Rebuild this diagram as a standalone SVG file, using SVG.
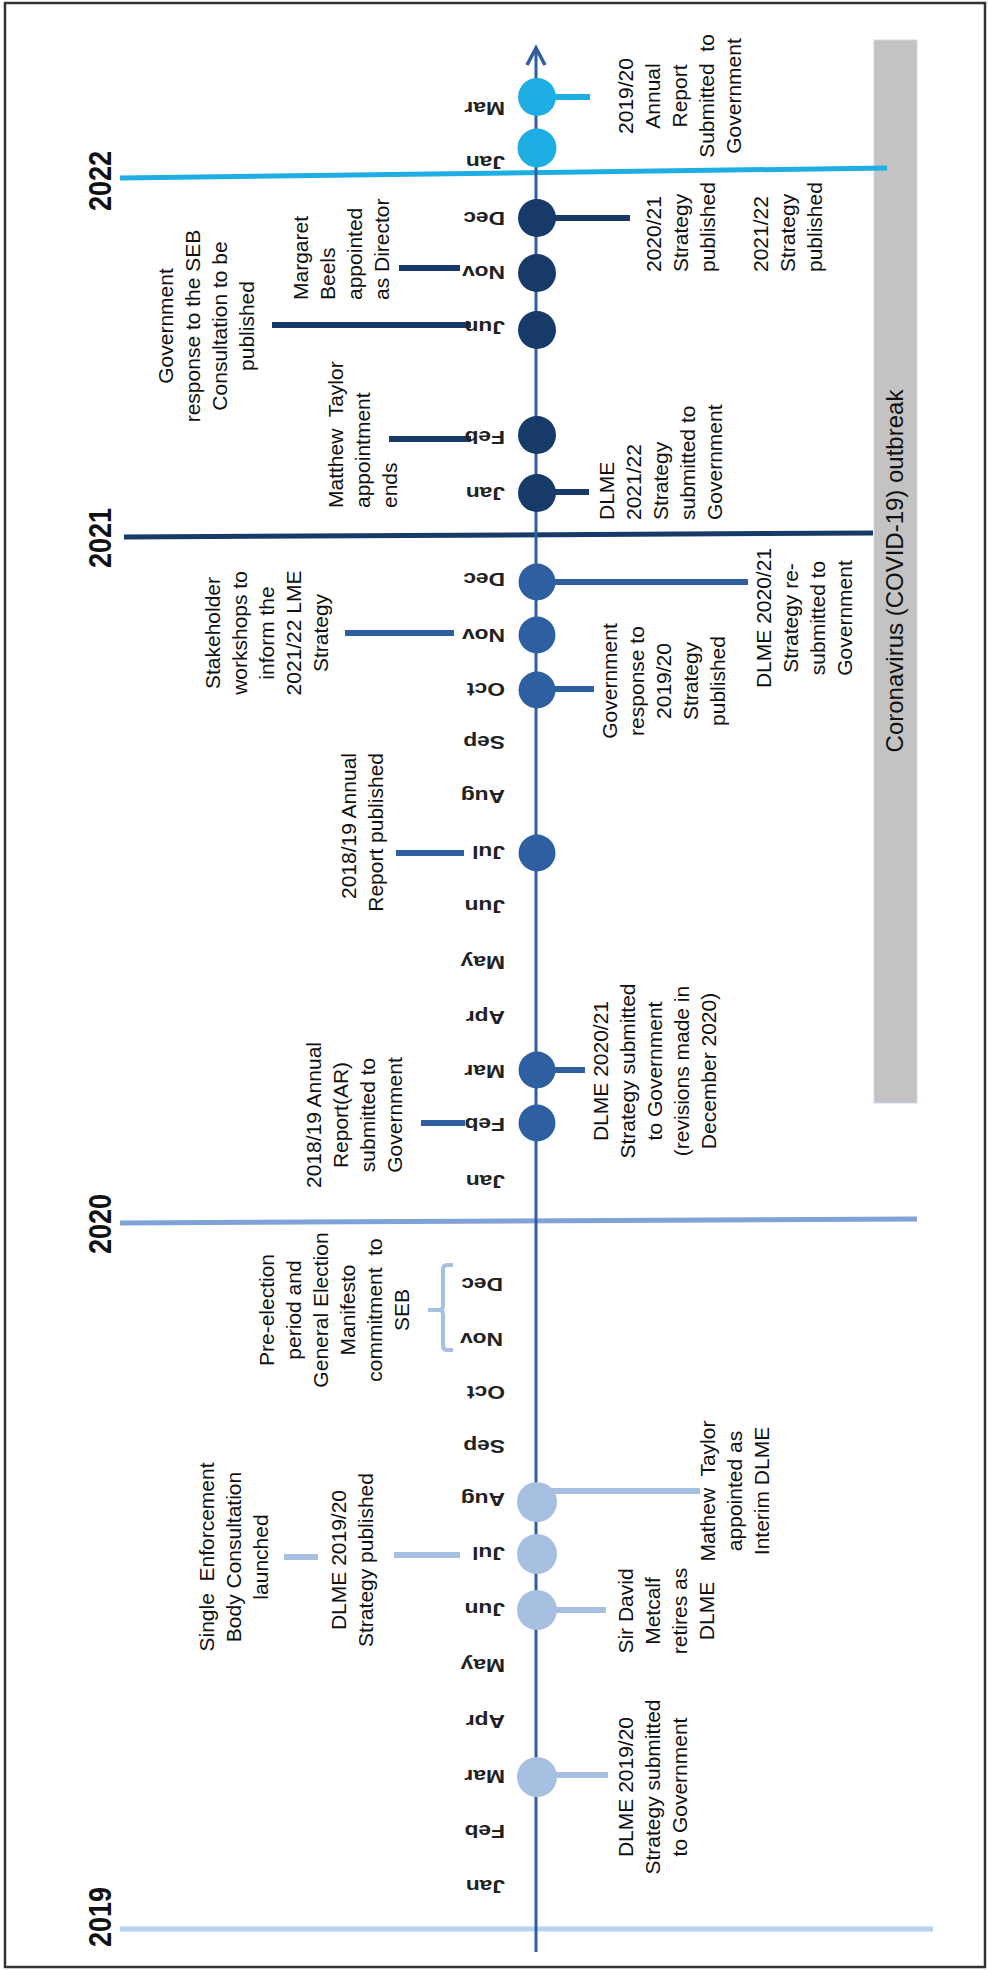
<svg xmlns="http://www.w3.org/2000/svg" width="988" height="1970" viewBox="0 0 988 1970">
<style>
.ev{font-family:"Liberation Sans",Arial,sans-serif;font-size:21px;fill:#111}
.pre{white-space:pre}
.mo{font-family:"Liberation Sans",Arial,sans-serif;font-size:19px;font-weight:bold;fill:#222}
.yr{font-family:"Liberation Sans",Arial,sans-serif;font-size:27px;font-weight:bold;fill:#111}
.c19{fill:#a7bfe0}.c20{fill:#2e5fa0}.c21{fill:#173a68}.c22{fill:#1eaee4}
.k19{stroke:#a7bfe0}.k20{stroke:#2e5fa0}.k21{stroke:#173a68}.k22{stroke:#1eaee4}
.cn{stroke-width:6;fill:none}
</style>
<rect x="5" y="3" width="980" height="1964" fill="#fff" stroke="#333" stroke-width="2.5"/>
<g id="covid">
<rect x="874" y="40" width="43" height="1063" fill="#c3c3c3" stroke="#cdd9ec" stroke-width="1"/>
<text class="ev" style="font-size:24px" text-anchor="middle" transform="translate(903,571) rotate(-90)">Coronavirus (COVID-19) outbreak</text>
</g>
<g id="years">
<line x1="120" y1="178" x2="887" y2="168" stroke="#1eaee4" stroke-width="5"/>
<line x1="124" y1="537" x2="873" y2="533" stroke="#173a68" stroke-width="5"/>
<line x1="120" y1="1223" x2="917" y2="1219" stroke="#7fa2d8" stroke-width="5"/>
<line x1="120" y1="1929" x2="933" y2="1929" stroke="#b5d3ec" stroke-width="5"/>
<text class="yr" text-anchor="middle" transform="translate(111,181) rotate(-90) scale(1,1.14)">2022</text>
<text class="yr" text-anchor="middle" transform="translate(111,538) rotate(-90) scale(1,1.14)">2021</text>
<text class="yr" text-anchor="middle" transform="translate(111,1224) rotate(-90) scale(1,1.14)">2020</text>
<text class="yr" text-anchor="middle" transform="translate(111,1917) rotate(-90) scale(1,1.14)">2019</text>
</g>
<g id="axis" stroke="#2f5e9e" stroke-width="3" fill="none">
<line x1="536" y1="50" x2="536" y2="1952"/>
<polyline points="527,65 536,48 545,65" stroke-width="3.5"/>
</g>
<g id="connectors">
<line class="cn k22" x1="537" y1="97" x2="590" y2="97"/>
<line class="cn k21" x1="537" y1="218" x2="630" y2="218"/>
<line class="cn k21" x1="399" y1="268" x2="460" y2="268"/>
<line class="cn k21" x1="272" y1="325" x2="471" y2="325"/>
<line class="cn k21" x1="389" y1="439" x2="471" y2="439"/>
<line class="cn k21" x1="537" y1="492" x2="589" y2="492"/>
<line class="cn k20" x1="537" y1="582" x2="748" y2="582"/>
<line class="cn k20" x1="345" y1="633" x2="454" y2="633"/>
<line class="cn k20" x1="537" y1="689" x2="594" y2="689"/>
<line class="cn k20" x1="396" y1="853" x2="464" y2="853"/>
<line class="cn k20" x1="537" y1="1070" x2="585" y2="1070"/>
<line class="cn k20" x1="421" y1="1123" x2="465" y2="1123"/>
<line class="cn k19" x1="537" y1="1491" x2="700" y2="1491"/>
<line class="cn k19" x1="284" y1="1557" x2="318" y2="1557"/>
<line class="cn k19" x1="394" y1="1555" x2="460" y2="1555"/>
<line class="cn k19" x1="537" y1="1610" x2="606" y2="1610"/>
<line class="cn k19" x1="537" y1="1775" x2="608" y2="1775"/>
<path class="k19" d="M453,1265 H447 Q443,1265 443,1269 V1306 Q443,1310 439,1310 H428 M439,1310 Q443,1310 443,1314 V1346 Q443,1350 447,1350 H453" stroke-width="4" fill="none"/>
</g>
<g id="dots">
<circle class="c22" cx="537" cy="97" r="19"/>
<circle class="c22" cx="537" cy="148" r="19.5"/>
<circle class="c21" cx="537" cy="218" r="19"/>
<circle class="c21" cx="537" cy="273" r="19"/>
<circle class="c21" cx="537" cy="330" r="19"/>
<circle class="c21" cx="537" cy="435" r="19"/>
<circle class="c21" cx="537" cy="493" r="19"/>
<circle class="c20" cx="537" cy="582" r="18.5"/>
<circle class="c20" cx="537" cy="635" r="18.5"/>
<circle class="c20" cx="537" cy="690" r="18.5"/>
<circle class="c20" cx="537" cy="853" r="18.5"/>
<circle class="c20" cx="537" cy="1070" r="18.5"/>
<circle class="c20" cx="537" cy="1123" r="18.5"/>
<circle class="c19" cx="537" cy="1502" r="20"/>
<circle class="c19" cx="537" cy="1554" r="20"/>
<circle class="c19" cx="537" cy="1610" r="20"/>
<circle class="c19" cx="537" cy="1777" r="20"/>
</g>
<g id="months" class="mo">
<text transform="translate(505,109) rotate(180) scale(1.2,1)" dy="0.35em">Mar</text>
<text transform="translate(505,163) rotate(180) scale(1.2,1)" dy="0.35em">Jan</text>
<text transform="translate(505,219) rotate(180) scale(1.2,1)" dy="0.35em">Dec</text>
<text transform="translate(505,273) rotate(180) scale(1.2,1)" dy="0.35em">Nov</text>
<text transform="translate(505,328) rotate(180) scale(1.2,1)" dy="0.35em">Jun</text>
<text transform="translate(505,438) rotate(180) scale(1.2,1)" dy="0.35em">Feb</text>
<text transform="translate(505,494) rotate(180) scale(1.2,1)" dy="0.35em">Jan</text>
<text transform="translate(505,580) rotate(180) scale(1.2,1)" dy="0.35em">Dec</text>
<text transform="translate(505,636) rotate(180) scale(1.2,1)" dy="0.35em">Nov</text>
<text transform="translate(505,690) rotate(180) scale(1.2,1)" dy="0.35em">Oct</text>
<text transform="translate(505,743) rotate(180) scale(1.2,1)" dy="0.35em">Sep</text>
<text transform="translate(505,797) rotate(180) scale(1.2,1)" dy="0.35em">Aug</text>
<text transform="translate(505,853) rotate(180) scale(1.2,1)" dy="0.35em">Jul</text>
<text transform="translate(505,907) rotate(180) scale(1.2,1)" dy="0.35em">Jun</text>
<text transform="translate(505,963) rotate(180) scale(1.2,1)" dy="0.35em">May</text>
<text transform="translate(505,1018) rotate(180) scale(1.2,1)" dy="0.35em">Apr</text>
<text transform="translate(505,1072) rotate(180) scale(1.2,1)" dy="0.35em">Mar</text>
<text transform="translate(505,1125) rotate(180) scale(1.2,1)" dy="0.35em">Feb</text>
<text transform="translate(505,1182) rotate(180) scale(1.2,1)" dy="0.35em">Jan</text>
<text transform="translate(503,1285) rotate(180) scale(1.2,1)" dy="0.35em">Dec</text>
<text transform="translate(503,1340) rotate(180) scale(1.2,1)" dy="0.35em">Nov</text>
<text transform="translate(505,1393) rotate(180) scale(1.2,1)" dy="0.35em">Oct</text>
<text transform="translate(505,1447) rotate(180) scale(1.2,1)" dy="0.35em">Sep</text>
<text transform="translate(505,1500) rotate(180) scale(1.2,1)" dy="0.35em">Aug</text>
<text transform="translate(505,1554) rotate(180) scale(1.2,1)" dy="0.35em">Jul</text>
<text transform="translate(505,1610) rotate(180) scale(1.2,1)" dy="0.35em">Jun</text>
<text transform="translate(505,1666) rotate(180) scale(1.2,1)" dy="0.35em">May</text>
<text transform="translate(505,1722) rotate(180) scale(1.2,1)" dy="0.35em">Apr</text>
<text transform="translate(505,1777) rotate(180) scale(1.2,1)" dy="0.35em">Mar</text>
<text transform="translate(505,1832) rotate(180) scale(1.2,1)" dy="0.35em">Feb</text>
<text transform="translate(505,1887) rotate(180) scale(1.2,1)" dy="0.35em">Jan</text>
</g>
<g id="ev-seb-response"><text class="ev" text-anchor="middle" transform="translate(0,326) rotate(-90)"><tspan x="0" y="173">Government</tspan><tspan x="0" y="200">response to the SEB</tspan><tspan x="0" y="227">Consultation to be</tspan><tspan x="0" y="254">published</tspan></text></g>
<g id="ev-beels"><text class="ev" text-anchor="start" transform="translate(0,300) rotate(-90)"><tspan x="0" y="308">Margaret</tspan><tspan x="0" y="335">Beels</tspan><tspan x="0" y="362">appointed</tspan><tspan x="0" y="389">as Director</tspan></text></g>
<g id="ev-taylor-ends"><text class="ev" text-anchor="start" transform="translate(0,508) rotate(-90)"><tspan class="pre" x="0" y="343">Matthew  Taylor</tspan><tspan x="0" y="370">appointment</tspan><tspan x="0" y="397">ends</tspan></text></g>
<g id="ev-workshops"><text class="ev" text-anchor="middle" transform="translate(0,633) rotate(-90)"><tspan x="0" y="220">Stakeholder</tspan><tspan x="0" y="247">workshops to</tspan><tspan x="0" y="274">inform the</tspan><tspan x="0" y="301">2021/22 LME</tspan><tspan x="0" y="328">Strategy</tspan></text></g>
<g id="ev-ar-published"><text class="ev" text-anchor="end" transform="translate(0,753) rotate(-90)"><tspan x="0" y="356">2018/19 Annual</tspan><tspan x="0" y="383">Report published</tspan></text></g>
<g id="ev-ar-submitted"><text class="ev" text-anchor="middle" transform="translate(0,1115) rotate(-90)"><tspan x="0" y="321">2018/19 Annual</tspan><tspan x="0" y="348">Report(AR)</tspan><tspan x="0" y="375">submitted to</tspan><tspan x="0" y="402">Government</tspan></text></g>
<g id="ev-election"><text class="ev" text-anchor="middle" transform="translate(0,1310) rotate(-90)"><tspan x="0" y="274">Pre-election</tspan><tspan x="0" y="301">period and</tspan><tspan x="0" y="328">General Election</tspan><tspan x="0" y="355">Manifesto</tspan><tspan class="pre" x="0" y="382">commitment  to</tspan><tspan x="0" y="409">SEB</tspan></text></g>
<g id="ev-seb-launch"><text class="ev" text-anchor="middle" transform="translate(0,1557) rotate(-90)"><tspan class="pre" x="0" y="214">Single  Enforcement</tspan><tspan x="0" y="241">Body Consultation</tspan><tspan x="0" y="268">launched</tspan></text></g>
<g id="ev-strategy1920-pub"><text class="ev" text-anchor="middle" transform="translate(0,1560) rotate(-90)"><tspan x="0" y="346">DLME 2019/20</tspan><tspan x="0" y="373">Strategy published</tspan></text></g>
<g id="ev-ar1920"><text class="ev" text-anchor="middle" transform="translate(0,96) rotate(-90)"><tspan x="0" y="633">2019/20</tspan><tspan x="0" y="660">Annual</tspan><tspan x="0" y="687">Report</tspan><tspan class="pre" x="0" y="714">Submitted  to</tspan><tspan x="0" y="741">Government</tspan></text></g>
<g id="ev-strategy2021-pub"><text class="ev" text-anchor="start" transform="translate(0,272) rotate(-90)"><tspan x="0" y="661">2020/21</tspan><tspan x="0" y="688">Strategy</tspan><tspan x="0" y="715">published</tspan></text></g>
<g id="ev-strategy2122-pub"><text class="ev" text-anchor="start" transform="translate(0,272) rotate(-90)"><tspan x="0" y="768">2021/22</tspan><tspan x="0" y="795">Strategy</tspan><tspan x="0" y="822">published</tspan></text></g>
<g id="ev-strategy2122-sub"><text class="ev" text-anchor="start" transform="translate(0,520) rotate(-90)"><tspan x="0" y="614">DLME</tspan><tspan x="0" y="641">2021/22</tspan><tspan x="0" y="668">Strategy</tspan><tspan x="0" y="695">submitted to</tspan><tspan x="0" y="722">Government</tspan></text></g>
<g id="ev-strategy2021-resub"><text class="ev" text-anchor="middle" transform="translate(0,618) rotate(-90)"><tspan x="0" y="771">DLME 2020/21</tspan><tspan x="0" y="798">Strategy re-</tspan><tspan x="0" y="825">submitted to</tspan><tspan x="0" y="852">Government</tspan></text></g>
<g id="ev-gov-response1920"><text class="ev" text-anchor="middle" transform="translate(0,681) rotate(-90)"><tspan x="0" y="617">Government</tspan><tspan x="0" y="644">response to</tspan><tspan x="0" y="671">2019/20</tspan><tspan x="0" y="698">Strategy</tspan><tspan x="0" y="725">published</tspan></text></g>
<g id="ev-strategy2021-sub"><text class="ev" text-anchor="middle" transform="translate(0,1071) rotate(-90)"><tspan x="0" y="608">DLME 2020/21</tspan><tspan x="0" y="635">Strategy submitted</tspan><tspan x="0" y="662">to Government</tspan><tspan x="0" y="689">(revisions made in</tspan><tspan x="0" y="716">December 2020)</tspan></text></g>
<g id="ev-interim"><text class="ev" text-anchor="middle" transform="translate(0,1491) rotate(-90)"><tspan class="pre" x="0" y="715">Mathew  Taylor</tspan><tspan x="0" y="742">appointed as</tspan><tspan x="0" y="769">Interim DLME</tspan></text></g>
<g id="ev-metcalf"><text class="ev" text-anchor="middle" transform="translate(0,1611) rotate(-90)"><tspan x="0" y="633">Sir David</tspan><tspan x="0" y="660">Metcalf</tspan><tspan x="0" y="687">retires as</tspan><tspan x="0" y="714">DLME</tspan></text></g>
<g id="ev-strategy1920-sub"><text class="ev" text-anchor="middle" transform="translate(0,1787) rotate(-90)"><tspan x="0" y="633">DLME 2019/20</tspan><tspan x="0" y="660">Strategy submitted</tspan><tspan x="0" y="687">to Government</tspan></text></g>
</svg>
